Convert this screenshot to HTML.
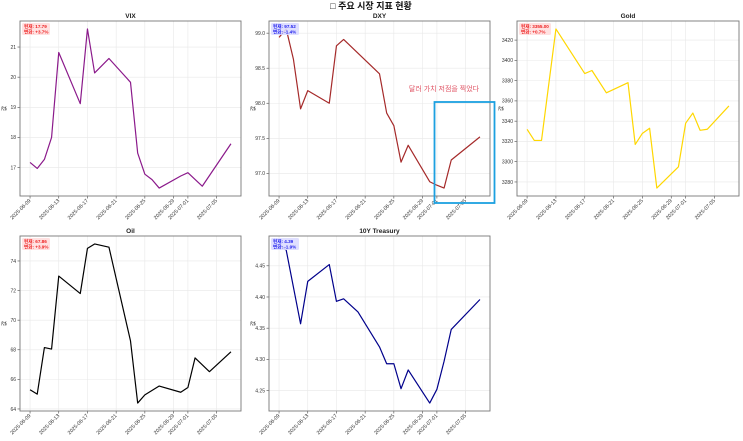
<!DOCTYPE html>
<html><head><meta charset="utf-8">
<style>
html,body{margin:0;padding:0;background:#fff;}
svg{display:block;font-family:"Liberation Sans","Noto Sans CJK KR",sans-serif;}
</style></head>
<body>
<svg id="chart" width="743" height="441" viewBox="0 0 743 441">
<text x="371" y="9" text-anchor="middle" font-size="9" font-weight="bold" fill="#111">□ 주요 시장 지표 현황</text>
</svg>
<script>
// ---- data ----
const tickDays = [0,4,8,12,16,20,22,26];
const tickDates = ["2025-06-09","2025-06-13","2025-06-17","2025-06-21","2025-06-25","2025-06-29","2025-07-01","2025-07-05"];

const vixDays = [0,1,2,3,4,7,8,9,11,14,15,16,17,18,21,22,24,28];
const vixValues = [17.17,16.97,17.27,18.0,20.82,19.12,21.6,20.14,20.62,19.83,17.48,16.78,16.6,16.32,16.72,16.83,16.38,17.79];
const vixTicks = [17,18,19,20,21];
const vixInfo = ["17.79","+3.7%"];

const dxyDays = [0,1,2,3,4,7,8,9,14,15,16,17,18,21,22,23,24,28];
const dxyValues = [98.94,99.06,98.63,97.92,98.18,98.0,98.82,98.91,98.42,97.86,97.68,97.16,97.4,96.88,96.83,96.79,97.19,97.52];
const dxyTicks = [97.0,97.5,98.0,98.5,99.0];
const dxyInfo = ["97.52","-1.4%"];

const goldDays = [0,1,2,4,8,9,11,14,15,16,17,18,21,22,23,24,25,28];
const goldValues = [3332,3321,3321,3431,3387,3390,3368,3378,3317,3328,3333,3274,3295,3338,3348,3331,3332,3355];
const goldTicks = [3280,3300,3320,3340,3360,3380,3400,3420];
const goldInfo = ["3355.00","+0.7%"];

const oilDays = [0,1,2,3,4,7,8,9,11,14,15,16,18,21,22,23,25,28];
const oilValues = [65.3,65.0,68.15,68.05,72.98,71.8,74.85,75.15,74.93,68.6,64.4,64.95,65.55,65.13,65.45,67.45,66.52,67.86];
const oilTicks = [64,66,68,70,72,74];
const oilInfo = ["67.86","+3.9%"];

const tnxDays = [0,1,3,4,7,8,9,11,14,15,16,17,18,21,22,23,24,28];
const tnxValues = [4.485,4.475,4.357,4.425,4.452,4.393,4.397,4.376,4.32,4.293,4.293,4.253,4.283,4.23,4.252,4.297,4.348,4.396];
const tnxTicks = [4.25,4.30,4.35,4.40,4.45];
const tnxInfo = ["4.39","-1.9%"];

const NS="http://www.w3.org/2000/svg";
const svg=document.getElementById('chart');
function mk(tag,attrs,parent){const e=document.createElementNS(NS,tag);for(const k in attrs)e.setAttribute(k,attrs[k]);(parent||svg).appendChild(e);return e;}

function panel(cfg){
  const g=mk('g',{});
  
  
  const {x0,x1,y0,y1}=cfg;
  const dmin=0,dmax=28,dr=dmax-dmin;
  const xs=d=>x0+(d-(dmin-dr*0.05))/(dr*1.1)*(x1-x0);
  const vmin=Math.min(...cfg.values),vmax=Math.max(...cfg.values),vr=vmax-vmin;
  const lo=vmin-vr*0.05,hi=vmax+vr*0.05;
  const ys=v=>y1-(v-lo)/(hi-lo)*(y1-y0);
  tickDays.forEach((d,i)=>{
    const X=xs(d);
    const gl=mk('line',{x1:X,x2:X,y1:y0,y2:y1,stroke:'#e8e8e8','stroke-width':0.6},g);
    
    
    mk('line',{x1:X,x2:X,y1:y1,y2:y1+2.5,stroke:'#444','stroke-width':0.6},g);
    const t=mk('text',{x:X+1,y:y1+5,'font-size':5.2,fill:'#333','text-anchor':'end',transform:`rotate(-45 ${X+1} ${y1+5})`},g);
    t.textContent=tickDates[i];
    
    
  });
  cfg.ticks.forEach(v=>{
    const Y=ys(v);
    const gl=mk('line',{x1:x0,x2:x1,y1:Y,y2:Y,stroke:'#e8e8e8','stroke-width':0.6},g);
    
    
    mk('line',{x1:x0-2.5,x2:x0,y1:Y,y2:Y,stroke:'#444','stroke-width':0.6},g);
    const t=mk('text',{x:x0-4,y:Y+1.8,'font-size':5,fill:'#333','text-anchor':'end'},g);
    t.textContent=cfg.fmt(v);
    
    
  });
  const fr=mk('rect',{x:x0,y:y0,width:x1-x0,height:y1-y0,fill:'none',stroke:'#777','stroke-width':0.9},g);
  
  
  const pts=cfg.days.map((d,i)=>xs(d).toFixed(2)+','+ys(cfg.values[i]).toFixed(2)).join(' ');
  const pl=mk('polyline',{points:pts,fill:'none',stroke:cfg.color,'stroke-width':1.2,'stroke-linejoin':'round'},g);
  
  
  const tt=mk('text',{x:(x0+x1)/2,y:y0-3,'font-size':6.5,'font-weight':'bold',fill:'#222','text-anchor':'middle'},g);
  tt.textContent=cfg.title;
  
  
  const yl=mk('text',{x:x0-14,y:(y0+y1)/2,'font-size':5.5,fill:'#222','text-anchor':'middle',transform:`rotate(-90 ${x0-14} ${(y0+y1)/2})`},g);
  yl.textContent='값';
  
  
  const up=cfg.info[1].charAt(0)!=='-';
  const bx=mk('rect',{x:x0+2,y:y0+2,width:cfg.boxW,height:12,rx:1.5,fill:up?'#ffdede':'#dcdcff',opacity:0.9},g);
  
  
  const t1=mk('text',{x:x0+4,y:y0+7,'font-size':4.6,'font-weight':'bold',fill:up?'#ee2222':'#2222ee'},g);
  t1.textContent='현재: '+cfg.info[0];
  
  
  const t2=mk('text',{x:x0+4,y:y0+12.5,'font-size':4.6,'font-weight':'bold',fill:up?'#ee2222':'#2222ee'},g);
  t2.textContent='변화: '+cfg.info[1];
  
  
  return {xs,ys,g};
}

panel({key:'vix',title:'VIX',x0:20,x1:241,y0:21,y1:196,days:vixDays,values:vixValues,ticks:vixTicks,info:vixInfo,color:'#8b1a8b',fmt:v=>v.toString(),boxW:28});
panel({key:'dxy',title:'DXY',x0:269,x1:490,y0:21,y1:196,days:dxyDays,values:dxyValues,ticks:dxyTicks,info:dxyInfo,color:'#a52a2a',fmt:v=>v.toFixed(1),boxW:28});
panel({key:'gold',title:'Gold',x0:517,x1:739,y0:21,y1:196,days:goldDays,values:goldValues,ticks:goldTicks,info:goldInfo,color:'#ffd700',fmt:v=>v.toString(),boxW:32});
panel({key:'oil',title:'Oil',x0:20,x1:241,y0:236,y1:411,days:oilDays,values:oilValues,ticks:oilTicks,info:oilInfo,color:'#000',fmt:v=>v.toString(),boxW:28});
panel({key:'treasury',title:'10Y Treasury',x0:269,x1:490,y0:236,y1:411,days:tnxDays,values:tnxValues,ticks:tnxTicks,info:tnxInfo,color:'#00008b',fmt:v=>v.toFixed(2),boxW:28});

const ann=mk('text',{x:444,y:91,'font-size':7,fill:'#e05565','text-anchor':'middle'});
ann.textContent='달러 가치 저점을 찍었다';


const hl=mk('rect',{x:434.5,y:102,width:60,height:101,fill:'none',stroke:'#1ca0e0','stroke-width':1.8});


</script>
</body></html>
